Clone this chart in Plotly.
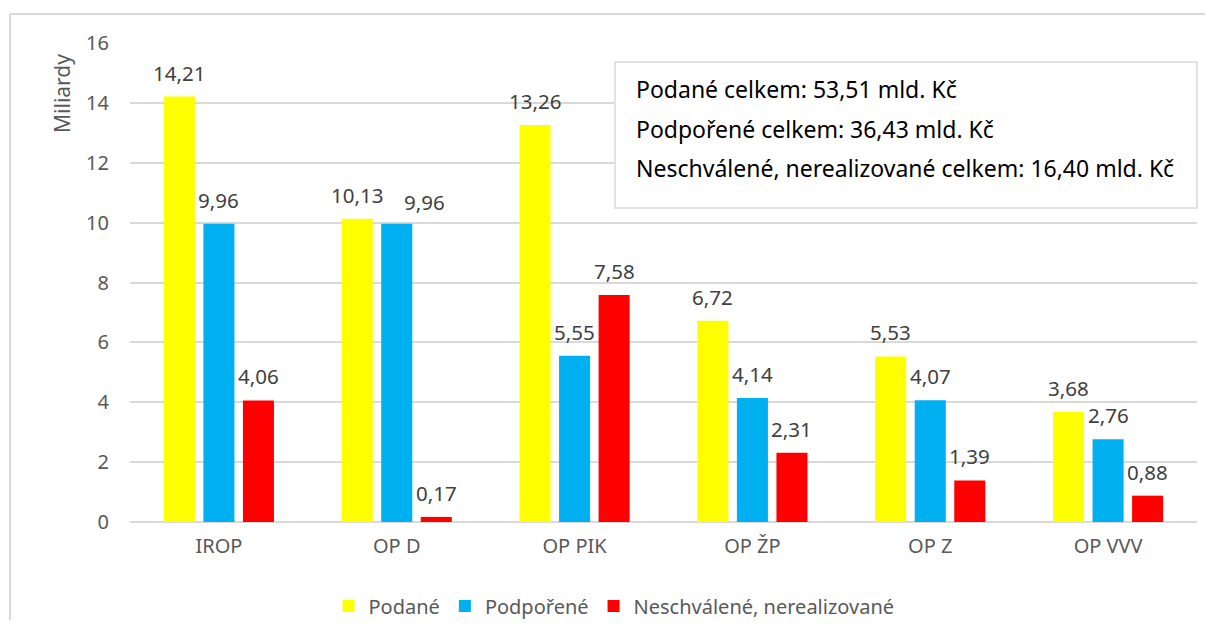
import plotly.graph_objects as go

# data
programy = ["IROP", "OP D", "OP PIK", "OP ŽP", "OP Z", "OP VVV"]
podane = [14.21, 10.13, 13.26, 6.72, 5.53, 3.68]
podporene = [9.96, 9.96, 5.55, 4.14, 4.07, 2.76]
neschvalene = [4.06, 0.17, 7.58, 2.31, 1.39, 0.88]
y_ticks = [0, 2, 4, 6, 8, 10, 12, 14, 16]
souhrn = ["Podané celkem: 53,51 mld. Kč",
          "Podpořené celkem: 36,43 mld. Kč",
          "Neschválené, nerealizované celkem: 16,40 mld. Kč"]

series = [("Podané", podane, "#FFFF00"),
          ("Podpořené", podporene, "#00B0F0"),
          ("Neschválené, nerealizované", neschvalene, "#FF0000")]

# labels that Excel nudged sideways to avoid a collision (px)
nudge = {("Podpořené", "OP D"): (28, -2)}

# page body has an 8px margin; keep the figure inside the window
OFF = 8
W, H = 1215 - 2 * OFF, 636 - 3 * OFF
L, T = 130 - OFF, 43 - OFF
R = W - (1197 - OFF)
B = H - (522 - OFF)
PW, PH = W - L - R, H - T - B
BARGAP, GROUPGAP = 0.333, 0.215
FONT = "Noto Sans"


def px(x):   # window pixel -> paper x
    return (x - OFF - L) / PW


def py(y):   # window pixel -> paper y
    return (H - B - (y - OFF)) / PH


def fmt(v):
    return f"{v:.2f}".replace(".", ",")


fig = go.Figure()
for name, vals, col in series:
    fig.add_trace(go.Bar(name=name, x=programy, y=vals, marker_color=col,
                         marker_line_width=0))

# data labels centred above each bar
slot = PW / len(programy) * (1 - BARGAP) / 3
annots = []
for i, (name, vals, col) in enumerate(series):
    for cat, v in zip(programy, vals):
        dx, dy = nudge.get((name, cat), (0, 0))
        annots.append(dict(x=cat, y=v, xref="x", yref="y", text=fmt(v),
                           showarrow=False, xshift=(i - 1) * slot + dx,
                           yshift=24 + dy, yanchor="middle",
                           font=dict(family=FONT, size=20.5, color="#404040")))

# y-axis title near the top
annots.append(dict(x=px(62), y=py(94), xref="paper", yref="paper",
                   text="Miliardy", textangle=-90, showarrow=False,
                   xanchor="center", yanchor="middle",
                   font=dict(family=FONT, size=21, color="#595959")))

# summary text box
for k, line in enumerate(souhrn):
    annots.append(dict(x=px(634), y=py(89 + k * 39.5), xref="paper", yref="paper",
                       text=line, showarrow=False, xanchor="left",
                       yanchor="middle",
                       font=dict(family=FONT, size=23, color="#000000")))

border = dict(color="#D9D9D9", width=2)
shapes = [
    dict(type="rect", xref="paper", yref="paper", x0=px(615), x1=px(1197),
         y0=py(208), y1=py(62), fillcolor="white",
         line=dict(color="#D9D9D9", width=1.5), layer="above"),
    # chart frame (only top and left edges are inside the window)
    dict(type="line", xref="paper", yref="paper", x0=px(10), x1=px(OFF + W - 2),
         y0=py(14), y1=py(14), line=border, layer="below"),
    dict(type="line", xref="paper", yref="paper", x0=px(10), x1=px(10),
         y0=py(14), y1=py(OFF + H), line=border, layer="below"),
]

fig.update_layout(
    width=W, height=H,
    margin=dict(l=L, r=R, t=T, b=B, pad=0, autoexpand=False),
    paper_bgcolor="white", plot_bgcolor="white",
    barmode="group", bargap=BARGAP, bargroupgap=GROUPGAP,
    font=dict(family=FONT, size=20, color="#595959"),
    showlegend=True,
    legend=dict(orientation="h", x=px(614), y=py(606), xanchor="center",
                yanchor="middle", font=dict(size=20, color="#595959"),
                itemclick=False, bgcolor="rgba(0,0,0,0)"),
    annotations=annots, shapes=shapes,
)
fig.update_xaxes(showline=False, ticks="", showgrid=False,
                 tickfont=dict(size=20, color="#595959"), ticklabelstandoff=10)
fig.update_yaxes(range=[0, 16], tickvals=y_ticks, showgrid=True,
                 gridcolor="#D9D9D9", gridwidth=1.5, zeroline=True,
                 zerolinecolor="#D9D9D9", zerolinewidth=1.5, showline=False,
                 tickfont=dict(size=20, color="#595959"), ticklabelstandoff=20)

fig.write_html("out.html")
